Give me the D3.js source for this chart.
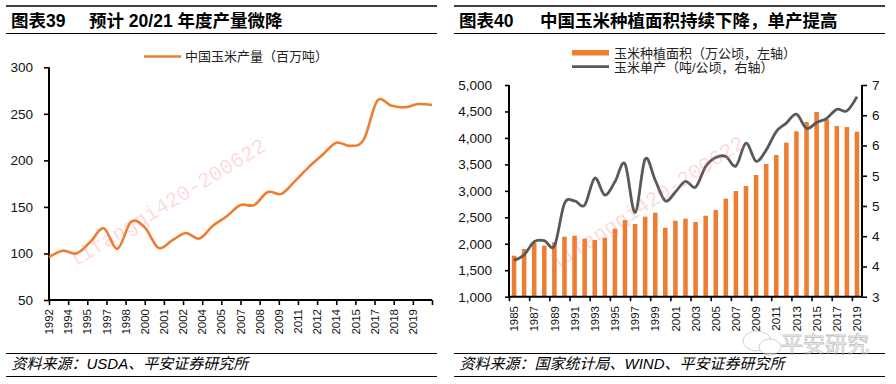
<!DOCTYPE html>
<html><head><meta charset="utf-8">
<script src="https://cdn.jsdelivr.net/npm/d3@7"></script>
<style>
body{margin:0;background:#fff;}
svg{display:block;font-family:"Liberation Sans","Noto Sans CJK SC",sans-serif;}
</style></head>
<body><svg id="c" width="896" height="384"></svg>
<script>
// ---- Left chart data ----
const prodYears = [1992,1993,1994,1995,1996,1997,1998,1999,2000,2001,2002,2003,2004,2005,2006,2007,2008,2009,2010,2011,2012,2013,2014,2015,2016,2017,2018,2019,2020];
const prodValues = [96,103,100,112,127,105,134,128,106,114,122,116,130,140,152,152,166,164,178,193,206,219,215.6,222,264,259,257,260.5,259.5];
const prodTickLabels = ["1992","1994","1995","1997","1998","2000","2001","2002","2004","2005","2007","2008","2009","2011","2012","2014","2015","2017","2018","2019"];
const prodYTicks = [50,100,150,200,250,300];

// ---- Right chart data ----
const areaYears = [1985,1986,1987,1988,1989,1990,1991,1992,1993,1994,1995,1996,1997,1998,1999,2000,2001,2002,2003,2004,2005,2006,2007,2008,2009,2010,2011,2012,2013,2014,2015,2016,2017,2018,2019];
const areaValues = [1775,1901,2020,1964,2028,2134,2153,2096,2071,2115,2285,2449,2374,2512,2587,2304,2436,2474,2412,2531,2638,2852,2997,3092,3300,3508,3678,3910,4125,4301,4490,4352,4226,4207,4118];
const yieldValues = [3.69,3.79,4.04,4.06,3.96,4.76,4.81,4.73,5.24,4.92,5.17,5.51,4.59,5.60,5.20,4.81,4.98,5.18,5.07,5.46,5.63,5.65,5.47,5.90,5.56,5.77,6.12,6.28,6.45,6.18,6.29,6.37,6.54,6.51,6.78];
const areaTickLabels = ["1985","1987","1989","1991","1993","1995","1997","1999","2001","2003","2005","2007","2009","2011","2013","2015","2017","2019"];
const areaYTicks = [1000,1500,2000,2500,3000,3500,4000,4500,5000];

const ORANGE = "#ED7D31", GREY = "#595959";
const svg = d3.select("#c");

// ---- Frames: titles & footers ----
function frame(x0, x1, title1, title2, t2x, foot) {
  svg.append("line").attr("x1",x0).attr("x2",x1).attr("y1",6).attr("y2",6).attr("stroke","#000").attr("stroke-width",1.4);
  svg.append("line").attr("x1",x0).attr("x2",x1).attr("y1",33.5).attr("y2",33.5).attr("stroke","#000").attr("stroke-width",1);
  svg.append("text").attr("x",x0+5).attr("y",27).attr("font-size",17.5).attr("font-weight","bold").text(title1);
  svg.append("text").attr("x",t2x).attr("y",27).attr("font-size",17.5).attr("font-weight","bold").text(title2);
  svg.append("line").attr("x1",x0).attr("x2",x1).attr("y1",353.5).attr("y2",353.5).attr("stroke","#000").attr("stroke-width",1.2);
  svg.append("line").attr("x1",x0).attr("x2",x1).attr("y1",376.5).attr("y2",376.5).attr("stroke","#000").attr("stroke-width",1);
  svg.append("text").attr("x",x0+5.5).attr("y",369).attr("font-size",15).attr("font-style","italic").text(foot);
}
frame(6, 437, "图表39", "预计 20/21 年度产量微降", 89, "资料来源：USDA、平安证券研究所");
frame(454, 885, "图表40", "中国玉米种植面积持续下降，单产提高", 540, "资料来源：国家统计局、WIND、平安证券研究所");

// ---- Left chart ----
const xL = d3.scaleLinear().domain([prodYears[0], prodYears[prodYears.length-1]]).range([49, 432]);
const yL = d3.scaleLinear().domain([50, 300]).range([300, 67.3]);
const tickStep = (prodYears[prodYears.length-1]-prodYears[0]) / prodTickLabels.length;
const tickPos = prodTickLabels.map((d,i)=>prodYears[0]+i*tickStep);

const gL = svg.append("g");
const axYL = gL.append("g").attr("transform","translate(49,0)")
  .call(d3.axisLeft(yL).tickValues(prodYTicks).tickSize(5).tickPadding(11).tickFormat(d3.format("d")));
axYL.select(".domain").attr("stroke-width",2).attr("d","M0,300V67.3");
axYL.selectAll(".tick line").attr("stroke-width",1.6);
axYL.selectAll("text").attr("font-size",13.5).attr("fill","#111");

const axXL = gL.append("g").attr("transform","translate(0,300)")
  .call(d3.axisBottom(xL).tickValues([...tickPos, prodYears[prodYears.length-1]]).tickSize(5).tickFormat(""));
axXL.select(".domain").attr("stroke-width",2).attr("d","M49,0H432");
axXL.selectAll(".tick line").attr("stroke-width",1.6);
gL.selectAll(".xl").data(prodTickLabels).join("text")
  .attr("transform",(d,i)=>`translate(${xL(tickPos[i])},309) rotate(-90)`)
  .attr("text-anchor","end").attr("dy","0.36em").attr("font-size",11.5).attr("fill","#111").text(d=>d);

const lineL = d3.line().x((d,i)=>xL(prodYears[i])).y(d=>yL(d)).curve(d3.curveCardinal.tension(0));
gL.append("path").attr("d",lineL(prodValues)).attr("fill","none").attr("stroke",ORANGE).attr("stroke-width",2.6).attr("stroke-linejoin","round");

gL.append("line").attr("x1",144).attr("x2",181).attr("y1",56.5).attr("y2",56.5).attr("stroke",ORANGE).attr("stroke-width",2.6);
gL.append("text").attr("x",185).attr("y",61).attr("font-size",13).attr("fill","#222").text("中国玉米产量（百万吨）");

// ---- Right chart ----
const xR = d3.scaleBand().domain(areaYears).range([509, 862]).paddingInner(0.55).paddingOuter(0.275);
const yR1 = d3.scaleLinear().domain([1000, 5000]).range([296.7, 85]);
const yR2 = d3.scaleLinear().domain([3, 7]).range([296.7, 85]);
const gR = svg.append("g");

gR.selectAll(".bar").data(areaValues).join("rect")
  .attr("x",(d,i)=>xR(areaYears[i])).attr("width",xR.bandwidth())
  .attr("y",d=>yR1(d)).attr("height",d=>yR1(1000)-yR1(d)).attr("fill",ORANGE);

const lineR = d3.line().x((d,i)=>xR(areaYears[i])+xR.bandwidth()/2).y(d=>yR2(d)).curve(d3.curveCardinal.tension(0));
gR.append("path").attr("d",lineR(yieldValues)).attr("fill","none").attr("stroke",GREY).attr("stroke-width",2.8).attr("stroke-linejoin","round");

const axYR1 = gR.append("g").attr("transform","translate(509,0)")
  .call(d3.axisLeft(yR1).tickValues(areaYTicks).tickSize(4).tickPadding(13).tickFormat(d3.format(",")));
axYR1.select(".domain").attr("stroke-width",2).attr("d","M0,296.7V85");
axYR1.selectAll(".tick line").attr("stroke-width",1.6);
axYR1.selectAll("text").attr("font-size",13.5).attr("fill","#111");

const r2Ticks = d3.range(8).map(i=>3+i*(4/7));
const axYR2 = gR.append("g").attr("transform","translate(862,0)")
  .call(d3.axisRight(yR2).tickValues(r2Ticks).tickSize(5).tickPadding(5).tickFormat(d3.format(".0f")));
axYR2.select(".domain").attr("stroke-width",2).attr("d","M0,296.7V85");
axYR2.selectAll(".tick line").attr("stroke-width",1.6);
axYR2.selectAll("text").attr("font-size",13.5).attr("fill","#111");

const xBound = d3.scaleLinear().domain([0, areaYears.length]).range([509, 862]);
const axXR = gR.append("g").attr("transform","translate(0,296.7)")
  .call(d3.axisBottom(xBound).tickValues(d3.range(0, areaYears.length, 2)).tickSize(4.5).tickFormat(""));
axXR.select(".domain").attr("stroke-width",2).attr("d","M509,0H862");
axXR.selectAll(".tick line").attr("stroke-width",1.6);
gR.selectAll(".xr").data(areaTickLabels).join("text")
  .attr("transform",d=>`translate(${xR(+d)+xR.bandwidth()/2},306) rotate(-90)`)
  .attr("text-anchor","end").attr("dy","0.36em").attr("font-size",11.5).attr("fill","#111").text(d=>d);

// legend
gR.append("rect").attr("x",572).attr("y",50).attr("width",37).attr("height",5.5).attr("fill",ORANGE);
gR.append("text").attr("x",614).attr("y",57.5).attr("font-size",13).attr("fill","#222").text("玉米种植面积（万公顷，左轴）");
gR.append("line").attr("x1",572).attr("x2",609).attr("y1",66.7).attr("y2",66.7).attr("stroke",GREY).attr("stroke-width",2.8);
gR.append("text").attr("x",614).attr("y",72).attr("font-size",13).attr("fill","#222").text("玉米单产（吨/公顷，右轴）");

// ---- Watermarks ----
svg.append("text").attr("transform","translate(74,268) rotate(-31.5)")
  .attr("font-family","Liberation Mono, monospace").attr("font-size",21).attr("fill","rgba(255,120,120,0.28)").text("lifangqi420-200622");
svg.append("text").attr("transform","translate(556,270) rotate(-33)")
  .attr("font-family","Liberation Mono, monospace").attr("font-size",21).attr("fill","rgba(255,120,120,0.28)").text("lifangqi420-200622");
const wm = svg.append("g").attr("opacity",0.55);
wm.append("ellipse").attr("cx",757).attr("cy",341).attr("rx",14).attr("ry",10).attr("fill","none").attr("stroke","#aaa").attr("stroke-width",1);
wm.append("ellipse").attr("cx",770).attr("cy",347).attr("rx",11).attr("ry",8).attr("fill","#fff").attr("stroke","#aaa").attr("stroke-width",1);
wm.append("text").attr("x",781).attr("y",352).attr("font-size",22).attr("fill","#fff").attr("stroke","#999").attr("stroke-width",0.9).text("平安研究");
</script></body></html>
